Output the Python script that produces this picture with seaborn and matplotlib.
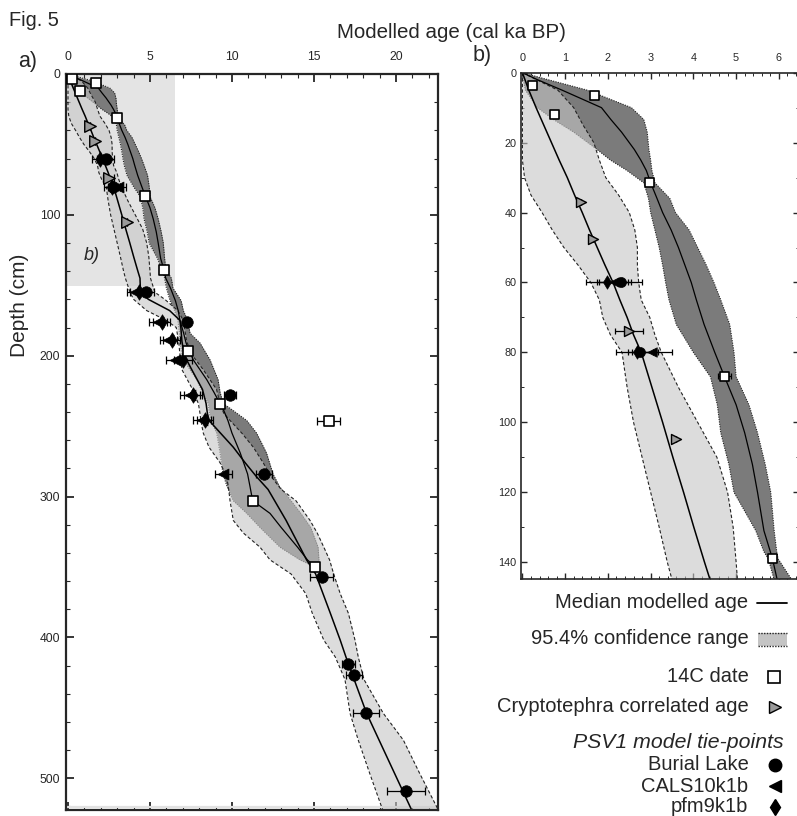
import matplotlib
matplotlib.use("Agg")
import matplotlib.pyplot as plt
from matplotlib.ticker import MultipleLocator
from matplotlib.patches import Rectangle
import seaborn as sns

# ---------------- data ----------------
# PSV1 age model (light band): depth (cm), 95.4% range and median (cal ka BP)
psv_depth = [0, 5, 10, 15, 20, 25, 30, 35, 40, 45, 50, 55, 60, 65, 70, 75, 80, 90, 100, 110,
             120, 130, 140, 145, 155, 160, 168, 175, 180, 190, 200, 210, 224, 234, 241, 246,
             255, 265, 276, 286, 295, 303, 317, 326, 336, 345, 355, 369, 383, 402, 414, 430,
             454, 473, 497, 518, 523]
psv_low = [0, 0, 0, 0, 0, 0, 0.05, 0.2, 0.46, 0.7, 0.97, 1.3, 1.6, 1.8, 1.88, 2.06, 2.33, 2.45,
           2.6, 2.8, 3.0, 3.2, 3.39, 3.5, 3.78, 4.0, 4.8, 6.0, 6.6, 6.75, 6.83, 6.95, 7.6, 7.95,
           8.05, 8.1, 8.25, 8.6, 9.27, 9.68, 9.8, 9.88, 10.08, 10.7, 11.71, 12.32, 13.6, 14.5,
           14.9, 15.6, 16.3, 16.89, 17.2, 17.7, 18.41, 19.05, 19.2]
psv_med = [0, 0.15, 0.32, 0.5, 0.68, 0.86, 1.05, 1.22, 1.4, 1.57, 1.75, 1.93, 2.12, 2.28, 2.45,
           2.6, 2.78, 3.03, 3.28, 3.52, 3.77, 4.01, 4.26, 4.39, 4.42, 4.9, 6.2, 6.83, 6.88, 6.95,
           7.1, 7.55, 8.2, 8.42, 8.5, 8.6, 9.3, 10.08, 10.8, 11.5, 12.2, 12.6, 13.3, 13.7, 14.15,
           14.55, 15.1, 15.55, 16.0, 16.6, 16.95, 17.45, 18.21, 18.97, 19.93, 20.77, 20.97]
psv_high = [0, 0.83, 1.2, 1.42, 1.67, 1.8, 1.95, 2.25, 2.5, 2.63, 2.69, 2.69, 2.72, 2.78, 2.98,
            3.1, 3.25, 3.65, 4.1, 4.55, 4.8, 4.93, 5.0, 5.03, 5.3, 5.9, 6.7, 7.03, 7.1, 7.24,
            7.6, 8.25, 9.06, 9.27, 9.5, 9.88, 10.6, 11.3, 11.9, 12.4, 13.0, 13.9, 14.76, 15.2,
            15.6, 15.95, 16.2, 16.6, 17.1, 17.5, 17.7, 18.05, 19.23, 20.45, 21.46, 22.38, 22.6]

# 14C-only age model (dark band)
c14m_depth = [0, 2, 5, 10, 13.4, 17, 22, 25, 28, 31.5, 36, 40, 45, 50, 55, 60, 65, 72, 80, 87,
              95, 103, 112, 120, 131, 137, 139, 145, 152, 161, 168, 175, 184, 191, 203, 217,
              226, 234, 239, 246, 255, 269, 284, 293, 303, 312, 322, 336, 345, 350]
c14m_low = [0, 0.02, 0.07, 0.35, 0.73, 1.2, 1.75, 2.06, 2.45, 2.84, 2.95, 3.0, 3.1, 3.2, 3.28,
            3.35, 3.43, 3.6, 4.0, 4.4, 4.56, 4.64, 4.83, 4.95, 5.46, 5.65, 5.75, 5.89, 6.0,
            6.22, 6.5, 6.7, 6.8, 6.83, 7.03, 7.85, 8.2, 8.55, 8.6, 8.7, 9.07, 9.27, 9.45, 9.7,
            10.08, 10.9, 11.71, 12.93, 14.15, 15.06]
c14m_med = [0, 0.35, 0.93, 1.85, 2.07, 2.32, 2.62, 2.77, 2.9, 3.0, 3.15, 3.28, 3.48, 3.65, 3.8,
            3.95, 4.07, 4.25, 4.5, 4.73, 5.0, 5.2, 5.38, 5.5, 5.65, 5.8, 5.85, 5.96, 6.25,
            6.55, 6.72, 6.83, 7.05, 7.2, 7.64, 8.46, 8.9, 9.27, 9.5, 9.75, 10.0, 10.5, 10.95,
            11.1, 11.26, 12.32, 13.0, 14.0, 14.6, 15.06]
c14m_high = [0, 0.6, 1.52, 2.55, 2.84, 2.92, 2.96, 3.0, 3.03, 3.1, 3.45, 3.58, 3.9, 4.1, 4.3,
             4.48, 4.64, 4.85, 4.95, 5.0, 5.3, 5.5, 5.68, 5.81, 5.89, 5.95, 5.98, 6.3, 6.4,
             6.9, 7.03, 7.3, 7.44, 8.05, 8.66, 9.15, 9.27, 9.47, 10.08, 10.9, 11.5, 12.1, 12.5,
             12.9, 13.6, 14.2, 14.8, 15.25, 15.3, 15.1]

# 14C dates
c14_age = [0.22, 1.68, 0.73, 2.96, 4.72, 5.85, 7.3, 9.27, 15.9, 11.26, 15.06]
c14_depth = [3.4, 6.5, 11.9, 31.3, 86.7, 138.9, 196.5, 234.3, 246.1, 303.3, 350.1]
c14_err = [0, 0, 0, 0, 0.15, 0, 0, 0, 0.7, 0, 0]

# Cryptotephra correlated ages
teph_age = [1.36, 1.65, 2.49, 3.6]
teph_depth = [37, 47.7, 73.9, 104.9]
teph_err = [0, 0, 0.33, 0]

# PSV1 model tie-points
burial_age = [2.3, 2.76, 4.76, 7.24, 9.88, 11.97, 15.47, 17.09, 17.44, 18.17, 20.59]
burial_depth = [60, 80, 155, 176, 228, 284, 357, 419, 427, 454, 509]
burial_err = [0.5, 0.3, 0.5, 0.2, 0.35, 0.5, 0.7, 0.4, 0.5, 0.8, 1.15]

cals_age = [2.15, 3.04, 4.09, 5.51, 6.12, 6.52, 7.44, 8.15, 9.47]
cals_depth = [60, 80, 155, 176, 189, 203, 228, 246, 284]
cals_err = [0.4, 0.47, 0.5, 0.55, 0.5, 0.55, 0.6, 0.55, 0.5]

pfm_age = [1.98, 2.68, 4.3, 5.71, 6.32, 7.03, 7.64, 8.35]
pfm_depth = [60, 80, 155, 176, 189, 203, 228, 246]
pfm_err = [0.5, 0.5, 0.5, 0.5, 0.5, 0.55, 0.55, 0.5]

# ---------------- style ----------------
sns.set_style("ticks")
plt.rcParams['font.family'] = ['Liberation Sans', 'DejaVu Sans']

DARK = '#7b7b7b'
LIGHT = '#c6c6c6'

W, H = 797, 816
fig = plt.figure(figsize=(W / 100, H / 100), dpi=100)


def fig_rect(x0, y0, x1, y1):
    return [x0 / W, 1 - y1 / H, (x1 - x0) / W, (y1 - y0) / H]


def draw(ax, ms, lw_band, capsize):
    # dark 14C-model band
    ax.fill_betweenx(c14m_depth, c14m_low, c14m_high, color=DARK, lw=0, zorder=1)
    for arr in (c14m_low, c14m_high):
        ax.plot(arr, c14m_depth, color='#222222', lw=lw_band, ls=(0, (1, 1.2)), zorder=1.2)
    # light PSV-model band (semi-transparent on top)
    ax.fill_betweenx(psv_depth, psv_low, psv_high, color=LIGHT, alpha=0.6, lw=0, zorder=1.5)
    for arr in (psv_low, psv_high):
        ax.plot(arr, psv_depth, color='#222222', lw=lw_band, ls=(0, (3, 2)), zorder=1.7)
    # medians
    sns.lineplot(x=c14m_med, y=c14m_depth, sort=False, estimator=None, color='black',
                 lw=0.9, ax=ax, zorder=2)
    sns.lineplot(x=psv_med, y=psv_depth, sort=False, estimator=None, color='black',
                 lw=1.1, ax=ax, zorder=2)
    # error bars
    ekw = dict(fmt='none', ecolor='black', elinewidth=0.9, capsize=capsize, capthick=0.9, zorder=3)
    ax.errorbar(pfm_age, pfm_depth, xerr=pfm_err, **ekw)
    ax.errorbar(cals_age, cals_depth, xerr=cals_err, **ekw)
    ax.errorbar(burial_age, burial_depth, xerr=burial_err, **ekw)
    ax.errorbar(c14_age, c14_depth, xerr=c14_err, **ekw)
    ax.errorbar(teph_age, teph_depth, xerr=teph_err, **ekw)
    # markers
    sns.scatterplot(x=pfm_age, y=pfm_depth, marker='d', s=(ms * 0.95) ** 2, color='black',
                    edgecolor='black', linewidth=0.5, ax=ax, zorder=4)
    sns.scatterplot(x=cals_age, y=cals_depth, marker='<', s=(ms * 0.95) ** 2, color='black',
                    edgecolor='black', linewidth=0.5, ax=ax, zorder=4)
    sns.scatterplot(x=burial_age, y=burial_depth, marker='o', s=ms ** 2, color='black',
                    edgecolor='black', linewidth=0.5, ax=ax, zorder=4)
    sns.scatterplot(x=teph_age, y=teph_depth, marker='>', s=ms ** 2, color='#9a9a9a',
                    edgecolor='black', linewidth=1.0, ax=ax, zorder=4)
    sns.scatterplot(x=c14_age, y=c14_depth, marker='s', s=(ms * 0.9) ** 2, color='white',
                    edgecolor='black', linewidth=1.2, ax=ax, zorder=5)


# ---------------- panel a ----------------
axa = fig.add_axes(fig_rect(65.7, 74, 438.3, 810))
axa.add_patch(Rectangle((-0.14, 0), 6.66, 150.5, facecolor='#e4e4e4', edgecolor='none', zorder=0.5))
axa.axhline(520.4, color='#e2e2e2', lw=1.6, zorder=0.6)
draw(axa, ms=8.3, lw_band=0.8, capsize=2.6)
axa.set_xlim(-0.14, 22.58)
axa.set_ylim(522.6, 0)
axa.xaxis.set_major_locator(MultipleLocator(5))
axa.xaxis.set_minor_locator(MultipleLocator(1))
axa.yaxis.set_major_locator(MultipleLocator(100))
axa.yaxis.set_minor_locator(MultipleLocator(20))
axa.tick_params(which='both', direction='in', top=True, bottom=True, left=True, right=True,
                labeltop=True, labelbottom=False, labelsize=8.7, pad=4)
axa.tick_params(axis='x', which='major', pad=8)
axa.tick_params(which='major', length=5.5, width=1.3)
axa.tick_params(which='minor', length=3, width=0.8)
for s in axa.spines.values():
    s.set_linewidth(1.6)
axa.set_xlabel('')
axa.set_ylabel('')
axa.text(1.43, 128.7, 'b)', fontsize=13, style='italic', ha='center', va='center', zorder=6)

# ---------------- panel b ----------------
axb = fig.add_axes(fig_rect(520.7, 72.7, 799.4, 579.3))
draw(axb, ms=7.2, lw_band=0.8, capsize=2.4)
axb.set_xlim(-0.04, 6.48)
axb.set_ylim(144.9, 0)
axb.xaxis.set_major_locator(MultipleLocator(1))
axb.xaxis.set_minor_locator(MultipleLocator(0.2))
axb.yaxis.set_major_locator(MultipleLocator(20))
axb.yaxis.set_minor_locator(MultipleLocator(10))
axb.tick_params(which='both', direction='in', top=True, bottom=True, left=True, right=True,
                labeltop=True, labelbottom=False, labelsize=7.8, pad=3)
axb.tick_params(axis='x', which='major', pad=7)
axb.tick_params(which='major', length=4.3, width=1.0)
axb.tick_params(which='minor', length=2.3, width=0.7)
for s in axb.spines.values():
    s.set_linewidth(1.2)
axb.set_xlabel('')
axb.set_ylabel('')

# ---------------- figure texts ----------------
fig.text(9 / W, 1 - 21 / H, 'Fig. 5', fontsize=14.4, ha='left', va='center')
fig.text(451.5 / W, 1 - 33 / H, 'Modelled age (cal ka BP)', fontsize=14.8, ha='center', va='center')
fig.text(28 / W, 1 - 61 / H, 'a)', fontsize=15.5, ha='center', va='center')
fig.text(482 / W, 1 - 56 / H, 'b)', fontsize=15.5, ha='center', va='center')
fig.text(20 / W, 1 - 305 / H, 'Depth (cm)', fontsize=15, rotation=90, ha='center', va='center')

# ---------------- legend (key glyphs placed in pixel space) ----------------
lg = fig.add_axes([0, 0, 1, 1], zorder=10)
lg.set_xlim(0, W)
lg.set_ylim(H, 0)
lg.axis('off')
TX = 748.5
FS = 14.5
items = [('Median modelled age', 603, 'line'),
         ('95.4% confidence range', 638, 'patch'),
         ('14C date', 677, 's'),
         ('Cryptotephra correlated age', 707, '>'),
         ('Burial Lake', 765, 'o'),
         ('CALS10k1b', 786, '<'),
         ('pfm9k1b', 807, 'd')]
for label, yy, kind in items:
    lg.text(TX, yy, label, fontsize=FS, ha='right', va='center')
    if kind == 'line':
        lg.plot([757, 787], [yy, yy], color='black', lw=1.3)
    elif kind == 'patch':
        lg.add_patch(Rectangle((758, 633), 29, 13, facecolor='#c4c4c4', edgecolor='none'))
        lg.plot([758, 787], [633, 633], color='#222222', lw=1, ls=(0, (1, 1)))
        lg.plot([758, 787], [646, 646], color='#222222', lw=1, ls=(0, (1, 1)))
    elif kind == 's':
        lg.plot([774], [yy], marker='s', ms=8, mfc='white', mec='black', mew=1.2)
    elif kind == '>':
        lg.plot([775], [yy], marker='>', ms=9, mfc='#9a9a9a', mec='black', mew=1.0)
    else:
        lg.plot([775], [yy], marker=kind, ms=9 if kind == 'o' else 8.5, mfc='black', mec='black')
lg.text(783.5, 742, 'PSV1 model tie-points', fontsize=15.3, style='italic', ha='right', va='center')

fig.savefig('out.png', dpi=100)
